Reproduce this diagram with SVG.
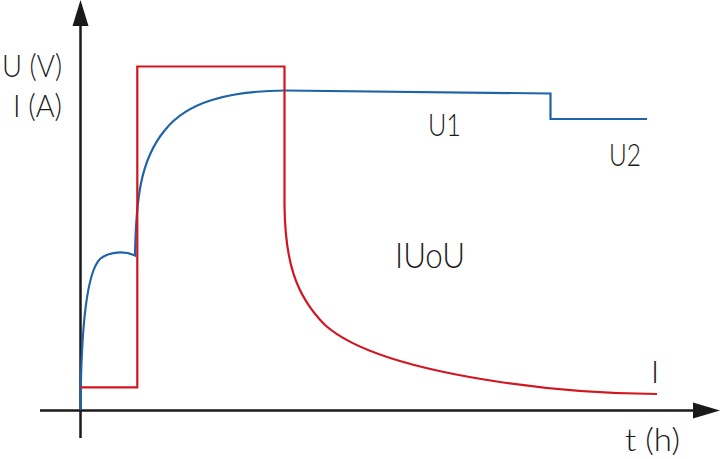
<svg xmlns="http://www.w3.org/2000/svg" width="720" height="459" viewBox="0 0 720 459">
  <style>
    .axis { stroke: #1a1a1a; stroke-width: 2.5; fill: none; }
    .head { fill: #1a1a1a; stroke: none; }
    .u { stroke: #1f64a8; stroke-width: 2.2; fill: none; stroke-linejoin: miter; }
    .i { stroke: #d2161f; stroke-width: 2.2; fill: none; stroke-linejoin: miter; }
    .lbl { font-family: "Lato", "Liberation Sans", sans-serif; font-weight: 300; fill: #1a1a1a; font-size: 31px; }
  </style>
  <rect width="720" height="459" fill="#ffffff"/>
  <g id="axes">
    <line class="axis" x1="80.5" y1="438" x2="80.5" y2="22"/>
    <polygon class="head" points="80.5,0 72.5,26 88.5,26"/>
    <line class="axis" x1="40" y1="410.5" x2="698" y2="410.5"/>
    <polygon class="head" points="720,410.5 693,402.5 693,418.5"/>
  </g>
  <g id="curve-U">
    <path class="u" d="M80.5,410 C81,330 87,272 100,259 C110,251 125,251 135,255.5 C136,200 140,160 165,130 C187,102 228,91 285,90.5 L550.5,93.5 V119 H647"/>
  </g>
  <g id="curve-I">
    <path class="i" d="M80.5,387.3 H137.3 V66.5 H284.5 V205 C285,260 295,295 325,325 C355,352 420,370 500,382 C560,391 610,394 657,394"/>
  </g>
  <g id="labels">
    <text class="lbl" x="2" y="77" textLength="60" lengthAdjust="spacingAndGlyphs">U (V)</text>
    <text class="lbl" x="13" y="117" textLength="49" lengthAdjust="spacingAndGlyphs">I (A)</text>
    <text class="lbl" x="428" y="136" textLength="33" lengthAdjust="spacingAndGlyphs">U1</text>
    <text class="lbl" x="609" y="166" textLength="32" lengthAdjust="spacingAndGlyphs">U2</text>
    <text class="lbl" x="395" y="268" style="font-size:36px" textLength="70" lengthAdjust="spacingAndGlyphs">IUoU</text>
    <text class="lbl" x="651" y="383">I</text>
    <text class="lbl" x="625" y="451" textLength="55" lengthAdjust="spacingAndGlyphs">t (h)</text>
  </g>
</svg>
